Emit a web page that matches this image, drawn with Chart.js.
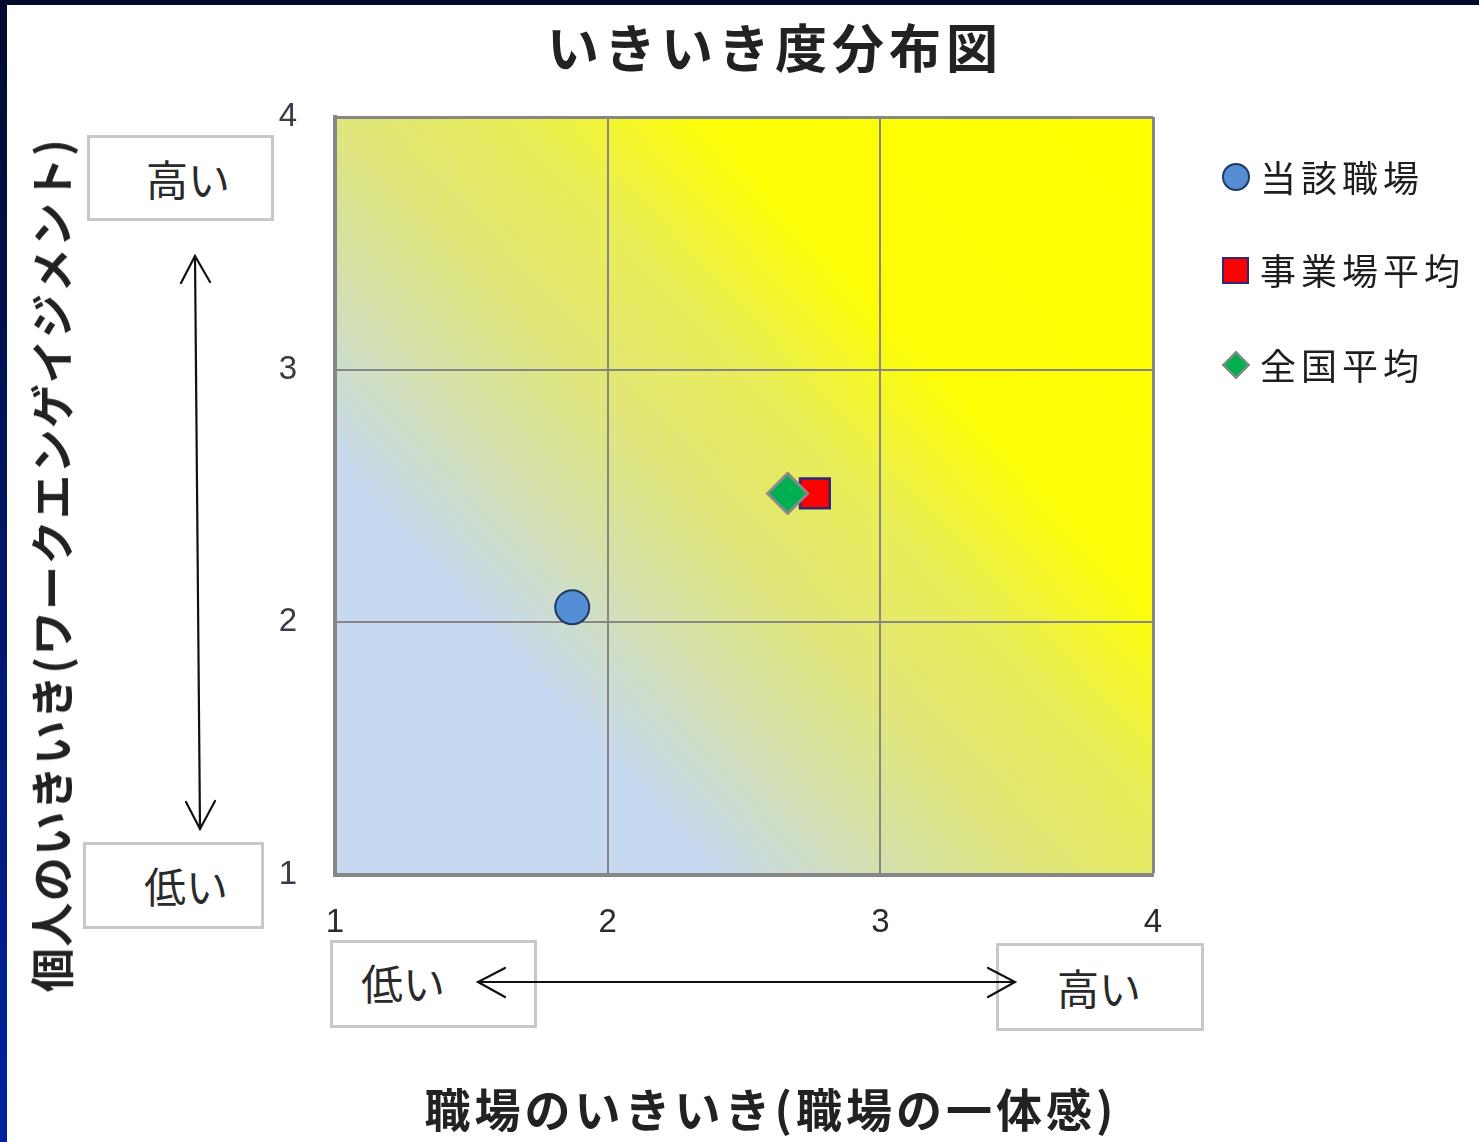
<!DOCTYPE html>
<html><head><meta charset="utf-8">
<script src="https://cdn.jsdelivr.net/npm/chart.js@4.4.1/dist/chart.umd.min.js"></script>
<style>
html,body{margin:0;padding:0;background:#fff;}
#wrap{position:relative;width:1479px;height:1142px;overflow:hidden;background:#fff;font-family:"Noto Sans CJK JP","Noto Sans",sans-serif;}
#c{position:absolute;left:0;top:0;}
.frameTop{position:absolute;left:0;top:0;width:1479px;height:5px;background:#000b2e;z-index:5;}
.frameLeft{position:absolute;left:0;top:0;width:7px;height:1142px;background:linear-gradient(#000b2e,#0022a0);z-index:5;}
.t{position:absolute;white-space:nowrap;color:#222;line-height:1;}
.box{position:absolute;border:3px solid #c8c8c8;box-sizing:border-box;background:#fff;}
.boxtxt{position:absolute;font-size:42px;color:#2a2a2a;white-space:nowrap;line-height:1;}
#title{left:0;width:1550px;top:20px;text-align:center;font-size:52px;font-weight:700;letter-spacing:5px;}
#ytitle{left:50px;top:565px;font-size:44px;font-weight:700;letter-spacing:1.5px;transform:translate(-50%,-50%) rotate(-90deg);}
#xtitle{left:771px;top:1107px;font-size:46px;font-weight:700;letter-spacing:4px;transform:translate(-50%,-50%);}
#legend{position:absolute;left:1222px;top:0;}
.lrow{position:absolute;left:0;white-space:nowrap;}
.lmark{position:absolute;box-sizing:border-box;}
.ltxt{position:absolute;left:38px;font-size:36px;color:#1e1e1e;letter-spacing:5px;line-height:1;transform:translateY(-50%);}
svg{position:absolute;left:0;top:0;}
</style></head>
<body>
<div id="wrap">
  <canvas id="c" width="1479" height="1142"></canvas>
  <div class="frameTop"></div><div class="frameLeft"></div>
  <div class="t" id="title">いきいき度分布図</div>
  <div class="t" id="ytitle">個人のいきいき(ワークエンゲイジメント)</div>
  <div class="t" id="xtitle">職場のいきいき(職場の一体感)</div>

  <div class="box" style="left:87px;top:135px;width:187px;height:86px;"></div>
  <div class="boxtxt" style="left:146px;top:157px;">高い</div>
  <div class="box" style="left:83px;top:842px;width:181px;height:87px;"></div>
  <div class="boxtxt" style="left:144px;top:864px;">低い</div>
  <div class="box" style="left:330px;top:940px;width:207px;height:88px;"></div>
  <div class="boxtxt" style="left:361px;top:961px;">低い</div>
  <div class="box" style="left:996px;top:943px;width:208px;height:88px;"></div>
  <div class="boxtxt" style="left:1057px;top:966px;">高い</div>

  <svg width="1479" height="1142" viewBox="0 0 1479 1142">
    <g stroke="#111" stroke-width="2.2" fill="none" stroke-linecap="round">
      <line x1="195" y1="256" x2="200" y2="829"/>
      <polyline points="181,283 195,256 210,282"/>
      <polyline points="186,802 200,829 215,801"/>
      <line x1="478" y1="982" x2="1014" y2="982"/>
      <polyline points="505,968 478,982 505,997"/>
      <polyline points="988,968 1015,982 988,997"/>
    </g>
  </svg>
  <div id="legend"></div>
</div>
<script>
// ---- data ----
const categories = ["当該職場", "事業場平均", "全国平均"];
const xValues = [1.87, 2.76, 2.66];
const yValues = [2.06, 2.51, 2.51];
const xTickValues = [1, 2, 3, 4];
const yTickValues = [1, 2, 3, 4];
const titleText = "いきいき度分布図";

// ---- styles ----
const styles = [
  {pointStyle: 'circle', radius: 17, bg: '#558ed5', border: '#1f3864', bw: 2, order: 0},
  {pointStyle: 'rect', radius: 21, bg: '#ff0000', border: '#2b2a78', bw: 2.5, order: 2},
  {pointStyle: 'rectRot', radius: 20, bg: '#00b050', border: '#8a8a8a', bw: 3, order: 1}
];

const datasets = categories.map((name, i) => ({
  label: name,
  data: [{x: xValues[i], y: yValues[i]}],
  pointStyle: styles[i].pointStyle,
  pointRadius: styles[i].radius,
  pointHoverRadius: styles[i].radius,
  backgroundColor: styles[i].bg,
  borderColor: styles[i].border,
  borderWidth: styles[i].bw,
  order: styles[i].order
}));

const bgPlugin = {
  id: 'bgGradient',
  beforeDraw(chart) {
    const {ctx, chartArea: a} = chart;
    const g = ctx.createLinearGradient(a.left, a.bottom, a.right, a.top);
    g.addColorStop(0, '#c6d9f1');
    g.addColorStop(0.25, '#c6d9f1');
    g.addColorStop(0.36, '#d4e0b0');
    g.addColorStop(0.47, '#e0e678');
    g.addColorStop(0.58, '#e9ed58');
    g.addColorStop(0.7, '#fdfd08');
    g.addColorStop(1, '#ffff00');
    ctx.save();
    ctx.fillStyle = g;
    ctx.fillRect(a.left, a.top, a.right - a.left, a.bottom - a.top);
    ctx.restore();
  }
};

const gridWidth = c => (c.tick && c.tick.value === 4 ? 3 : 2);

new Chart(document.getElementById('c'), {
  type: 'scatter',
  data: {datasets},
  plugins: [bgPlugin],
  options: {
    responsive: false,
    animation: false,
    devicePixelRatio: 1,
    layout: {padding: {left: 0, top: 117, right: 326, bottom: 0}},
    plugins: {legend: {display: false}, tooltip: {enabled: false}, title: {display: false}},
    scales: {
      x: {
        type: 'linear', min: 1, max: 4,
        afterBuildTicks: s => { s.ticks = xTickValues.map(v => ({value: v})); },
        afterFit: s => { s.height = 267; },
        ticks: {padding: 28, color: '#2a2a35', font: {size: 33, family: 'Liberation Sans'}, callback: v => String(v)},
        grid: {color: '#878787', lineWidth: gridWidth, drawTicks: false},
        border: {color: '#878787', width: 4}
      },
      y: {
        type: 'linear', min: 1, max: 4,
        afterBuildTicks: s => { s.ticks = yTickValues.map(v => ({value: v})); },
        afterFit: s => { s.width = 335; },
        ticks: {padding: 38, color: '#3a3a48', font: {size: 33, family: 'Liberation Sans'}, callback: v => String(v)},
        grid: {color: '#878787', lineWidth: gridWidth, drawTicks: false},
        border: {color: '#878787', width: 4}
      }
    }
  }
});

// legend (HTML), built from dataset names and styles
const legend = document.getElementById('legend');
const rowY = [176, 269, 364];
categories.forEach((name, i) => {
  const row = document.createElement('div');
  row.className = 'lrow';
  row.style.top = rowY[i] + 'px';
  const m = document.createElement('div');
  m.className = 'lmark';
  const s = styles[i];
  if (s.pointStyle === 'circle') {
    Object.assign(m.style, {left: '0px', top: '-13px', width: '28px', height: '28px', borderRadius: '50%', background: s.bg, border: '2px solid ' + s.border});
  } else if (s.pointStyle === 'rect') {
    Object.assign(m.style, {left: '0px', top: '-12px', width: '27px', height: '27px', background: s.bg, border: '2.5px solid ' + s.border});
  } else {
    Object.assign(m.style, {left: '4px', top: '-9px', width: '20px', height: '20px', background: s.bg, border: '2.5px solid ' + s.border, transform: 'rotate(45deg)'});
  }
  const t = document.createElement('div');
  t.className = 'ltxt';
  t.textContent = name;
  row.appendChild(m);
  row.appendChild(t);
  legend.appendChild(row);
});
document.getElementById('title').textContent = titleText;
</script>
</body></html>
